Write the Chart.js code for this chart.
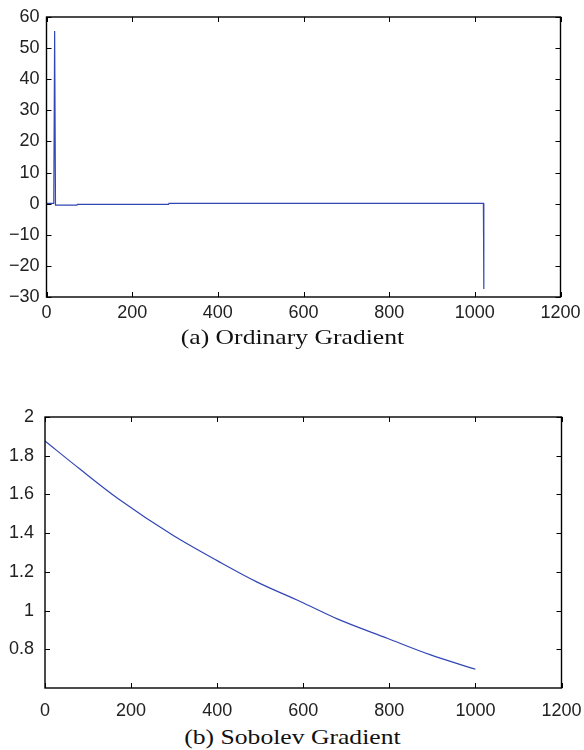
<!DOCTYPE html>
<html>
<head>
<meta charset="utf-8">
<script src="https://cdn.jsdelivr.net/npm/chart.js@4"></script>
<style>
  body { margin: 0; background: #fff; width: 584px; height: 750px; position: relative; overflow: hidden; }
  .panel { position: absolute; left: 0; width: 584px; }
  .caption { position: absolute; left: 0; width: 584px; text-align: center;
             font-family: "Liberation Serif", "DejaVu Serif", serif; font-size: 21px; color: #111;
             transform: scaleX(1.22); transform-origin: 290px 0; }
</style>
</head>
<body>
<div class="panel" style="top:0; height:330px;"><canvas id="ordinaryChart" width="584" height="330"></canvas></div>
<div class="caption" style="top:325px;">(a) Ordinary Gradient</div>
<div class="panel" style="top:395px; height:330px;"><canvas id="sobolevChart" width="584" height="330"></canvas></div>
<div class="caption" style="top:725px;">(b) Sobolev Gradient</div>
<script>
// (a) ordinary gradient: flat near zero with one spike and a drop at the end
const ordinaryX = [0, 17, 19, 21, 71, 72, 285, 286, 1020, 1021];
const ordinaryY = [0.1, 0.1, 55.5, -0.5, -0.5, -0.2, -0.2, 0.1, 0.1, -27.4];

// (b) sobolev gradient: smooth decay
const sobolevX = [0, 81, 171, 299, 400, 493, 593, 679, 795, 896, 1000];
const sobolevY = [1.876, 1.731, 1.576, 1.386, 1.258, 1.147, 1.047, 0.957, 0.857, 0.771, 0.697];

const xTicks = [0, 200, 400, 600, 800, 1000, 1200];

const lineColor = '#3246b4';
const tickFont = { family: '"Liberation Sans", Arial, sans-serif', size: 18 };

const toPoints = (xs, ys) => xs.map((x, i) => ({ x: x, y: ys[i] }));

const fmt = (v) => {
    const r = Math.round(v * 10) / 10;
    return r < 0 ? '\u2212' + Math.abs(r) : String(r);
};

// box around the plot area plus inward tick marks on all four sides (matlab style)
const boxPlugin = {
    id: 'matlabBox',
    afterDraw(chart) {
        const { ctx, chartArea: a, scales } = chart;
        const len = 5;
        ctx.save();
        ctx.strokeStyle = '#000';
        ctx.lineWidth = 1;
        ctx.beginPath();
        scales.x.ticks.forEach(t => {
            const px = Math.round(scales.x.getPixelForValue(t.value)) + 0.5;
            ctx.moveTo(px, a.bottom); ctx.lineTo(px, a.bottom - len);
            ctx.moveTo(px, a.top); ctx.lineTo(px, a.top + len);
        });
        scales.y.ticks.forEach(t => {
            const py = Math.round(scales.y.getPixelForValue(t.value)) + 0.5;
            ctx.moveTo(a.left, py); ctx.lineTo(a.left + len, py);
            ctx.moveTo(a.right, py); ctx.lineTo(a.right - len, py);
        });
        ctx.stroke();
        ctx.lineWidth = 1.4;
        ctx.strokeRect(a.left, a.top, a.right - a.left, a.bottom - a.top);
        ctx.restore();
    }
};

const createPanel = (canvasId, xs, ys, yOpts, pad, axisSizes, tickPad, smooth) => {
    const ctx = document.getElementById(canvasId);
    return new Chart(ctx, {
        type: 'scatter',
        data: {
            datasets: [{
                data: toPoints(xs, ys),
                showLine: true,
                borderColor: lineColor,
                borderWidth: 1.2,
                pointRadius: 0,
                tension: smooth ? 0.4 : 0,
                cubicInterpolationMode: smooth ? 'monotone' : 'default'
            }]
        },
        options: {
            responsive: false,
            animation: false,
            layout: { padding: pad },
            plugins: { legend: { display: false }, tooltip: { enabled: false } },
            scales: {
                x: {
                    type: 'linear',
                    min: 0,
                    max: 1200,
                    afterBuildTicks: (scale) => { scale.ticks = xTicks.map(v => ({ value: v })); },
                    grid: { display: false, drawTicks: false },
                    border: { display: false },
                    ticks: { font: tickFont, color: '#222', padding: tickPad.x, maxRotation: 0, callback: fmt },
                    afterFit: (scale) => {
                        scale.height = axisSizes.x;
                        scale.paddingLeft = 0;
                        scale.paddingRight = 0;
                    }
                },
                y: {
                    type: 'linear',
                    min: yOpts.min,
                    max: yOpts.max,
                    afterBuildTicks: (scale) => { scale.ticks = yOpts.ticks.map(v => ({ value: v })); },
                    grid: { display: false, drawTicks: false },
                    border: { display: false },
                    ticks: { font: tickFont, color: '#222', padding: tickPad.y, callback: fmt },
                    afterFit: (scale) => {
                        scale.width = axisSizes.y;
                        scale.paddingTop = 0;
                        scale.paddingBottom = 0;
                    }
                }
            }
        },
        plugins: [boxPlugin]
    });
};

const ordinaryYTicks = [-30, -20, -10, 0, 10, 20, 30, 40, 50, 60];
const sobolevYTicks = [0.8, 1, 1.2, 1.4, 1.6, 1.8, 2];

createPanel('ordinaryChart', ordinaryX, ordinaryY,
    { min: -30, max: 60, ticks: ordinaryYTicks },
    { top: 17, right: 23.5, left: 0, bottom: 0 },
    { x: 33, y: 46.5 }, { x: 5, y: 7 }, false);

createPanel('sobolevChart', sobolevX, sobolevY,
    { min: 0.6, max: 2, ticks: sobolevYTicks },
    { top: 22, right: 22.5, left: 0, bottom: 0 },
    { x: 37, y: 45 }, { x: 12, y: 11 }, true);
</script>
</body>
</html>
